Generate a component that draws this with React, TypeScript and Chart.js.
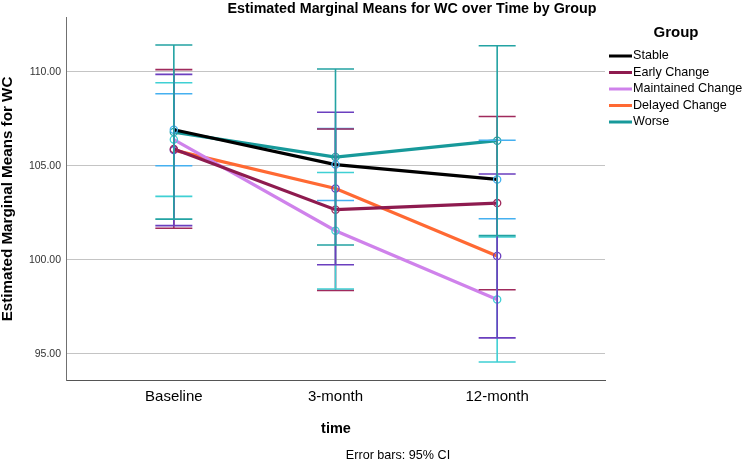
import React, { useEffect, useRef } from 'react';
import { Chart, registerables } from 'chart.js';

Chart.register(...registerables);

const timeLabels = ['Baseline', '3-month', '12-month'];
const groupNames = ['Stable', 'Early Change', 'Maintained Change', 'Delayed Change', 'Worse'];

const stableMean = [106.91, 105.06, 104.27];
const stableLow = [105.0, 103.15, 102.18];
const stableHigh = [108.83, 106.97, 106.35];

const earlyMean = [105.89, 102.66, 103.01];
const earlyLow = [101.67, 98.37, 98.4];
const earlyHigh = [110.11, 106.95, 107.62];

const maintainedMean = [106.39, 101.54, 97.88];
const maintainedLow = [103.37, 98.44, 94.56];
const maintainedHigh = [109.41, 104.64, 101.21];

const delayedMean = [105.83, 103.79, 100.2];
const delayedLow = [101.81, 99.73, 95.84];
const delayedHigh = [109.86, 107.84, 104.56];

const worseMean = [106.79, 105.46, 106.33];
const worseLow = [102.16, 100.78, 101.28];
const worseHigh = [111.42, 110.14, 111.38];

const yTicks = [95, 100, 105, 110];

const lineColors = ['#000000', '#8E1B4F', '#CF82EB', '#FF6933', '#17999A'];
const barColors = ['#45B0F0', '#A02A5C', '#3FD0D4', '#6B3FBF', '#23A3A3'];

const means = [stableMean, earlyMean, maintainedMean, delayedMean, worseMean];
const lows = [stableLow, earlyLow, maintainedLow, delayedLow, worseLow];
const highs = [stableHigh, earlyHigh, maintainedHigh, delayedHigh, worseHigh];

const FONT = '"Liberation Sans", Arial, sans-serif';

const errorBarPlugin = {
  id: 'errorBars',
  afterDatasetsDraw(chart: any) {
    const ctx = chart.ctx;
    const xs = chart.scales.x;
    const ys = chart.scales.y;
    ctx.save();
    for (let g = 0; g < means.length; g++) {
      ctx.strokeStyle = barColors[g];
      ctx.lineWidth = 1.6;
      for (let i = 0; i < timeLabels.length; i++) {
        const x = xs.getPixelForValue(i);
        const yl = ys.getPixelForValue(lows[g][i]);
        const yh = ys.getPixelForValue(highs[g][i]);
        ctx.beginPath();
        ctx.moveTo(x, yh);
        ctx.lineTo(x, yl);
        ctx.moveTo(x - 18.5, yh);
        ctx.lineTo(x + 18.5, yh);
        ctx.moveTo(x - 18.5, yl);
        ctx.lineTo(x + 18.5, yl);
        ctx.stroke();
      }
    }
    ctx.restore();
  },
};

const textPlugin = {
  id: 'texts',
  afterDraw(chart: any) {
    const ctx = chart.ctx;
    ctx.save();
    ctx.fillStyle = '#000';
    ctx.textAlign = 'center';
    ctx.textBaseline = 'middle';
    // main title
    ctx.font = `bold 14.3px ${FONT}`;
    ctx.fillText('Estimated Marginal Means for WC over Time by Group', 412, 9);
    // x title
    ctx.font = `bold 14.5px ${FONT}`;
    ctx.fillText('time', 336, 429);
    // footnote
    ctx.font = `12.6px ${FONT}`;
    ctx.fillText('Error bars: 95% CI', 398, 456);
    // y title
    ctx.save();
    ctx.translate(8, 199);
    ctx.rotate(-Math.PI / 2);
    ctx.font = `bold 15.2px ${FONT}`;
    ctx.fillText('Estimated Marginal Means for WC', 0, 0);
    ctx.restore();
    // legend
    ctx.font = `bold 15px ${FONT}`;
    ctx.fillText('Group', 676, 33);
    ctx.textAlign = 'left';
    ctx.font = `12.6px ${FONT}`;
    for (let g = 0; g < groupNames.length; g++) {
      const y = 56 + g * 16.5;
      ctx.strokeStyle = lineColors[g];
      ctx.lineWidth = 3;
      ctx.beginPath();
      ctx.moveTo(609, y);
      ctx.lineTo(632, y);
      ctx.stroke();
      ctx.fillStyle = '#000';
      ctx.fillText(groupNames[g], 633, y);
    }
    ctx.restore();
  },
};

export default function App() {
  const canvasRef = useRef<HTMLCanvasElement | null>(null);

  useEffect(() => {
    const canvas = canvasRef.current;
    if (!canvas) return;
    const chart = new Chart(canvas, {
      type: 'line',
      data: {
        datasets: groupNames.map((name, g) => ({
          label: name,
          data: means[g].map((v, i) => ({ x: i, y: v })),
          borderColor: lineColors[g],
          backgroundColor: lineColors[g],
          borderWidth: 3.2,
          tension: 0,
          pointRadius: 3.6,
          pointBorderWidth: 1.3,
          pointBorderColor: barColors[g],
          pointBackgroundColor: 'rgba(0,0,0,0)',
          fill: false,
        })),
      },
      options: {
        responsive: false,
        maintainAspectRatio: false,
        animation: false,
        devicePixelRatio: 1,
        layout: { padding: { left: 0, right: 139, top: 17, bottom: 0 } },
        plugins: {
          legend: { display: false },
          title: { display: false },
          tooltip: { enabled: false },
        },
        scales: {
          x: {
            type: 'linear',
            min: -0.667,
            max: 2.667,
            afterBuildTicks: (scale: any) => {
              scale.ticks = timeLabels.map((_, i) => ({ value: i }));
            },
            afterFit: (scale: any) => {
              scale.height = 84;
            },
            grid: { display: false, drawTicks: false },
            border: { display: true, color: '#555555', width: 1 },
            ticks: {
              padding: 8,
              color: '#000',
              font: { family: FONT, size: 15 },
              maxRotation: 0,
              autoSkip: false,
              callback: (v: any) => timeLabels[Math.round(v)] ?? '',
            },
          },
          y: {
            type: 'linear',
            min: 93.6,
            max: 112.91,
            afterBuildTicks: (scale: any) => {
              scale.ticks = yTicks.map((v) => ({ value: v }));
            },
            afterFit: (scale: any) => {
              scale.width = 66;
            },
            grid: { display: true, color: '#c4c4c4', lineWidth: 1, drawTicks: false },
            border: { display: true, color: '#707070', width: 1 },
            ticks: {
              padding: 5,
              color: '#333',
              font: { family: FONT, size: 10.5 },
              callback: (v: any) => Number(v).toFixed(2),
            },
          },
        },
      },
      plugins: [errorBarPlugin, textPlugin],
    });
    return () => chart.destroy();
  }, []);

  return (
    <div style={{ position: 'fixed', left: 0, top: 0, width: 744, height: 464, background: '#fff' }}>
      <canvas ref={canvasRef} width={744} height={464} style={{ width: 744, height: 464, display: 'block' }} />
    </div>
  );
}
